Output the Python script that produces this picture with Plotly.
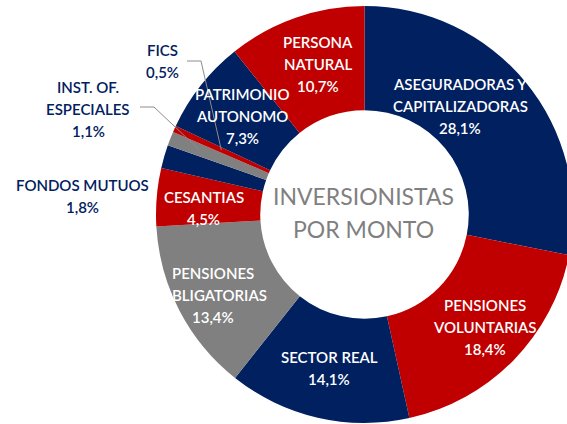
import math
import plotly.graph_objects as go

# ---- data ----
categories = ["ASEGURADORAS Y CAPITALIZADORAS", "PENSIONES VOLUNTARIAS", "SECTOR REAL",
              "PENSIONES OBLIGATORIAS", "CESANTIAS", "FONDOS MUTUOS",
              "INST. OF. ESPECIALES", "FICS", "PATRIMONIO AUTONOMO", "PERSONA NATURAL"]
label_lines = [["ASEGURADORAS Y", "CAPITALIZADORAS"], ["PENSIONES", "VOLUNTARIAS"], ["SECTOR REAL"],
               ["PENSIONES", "OBLIGATORIAS"], ["CESANTIAS"], ["FONDOS MUTUOS"],
               ["INST. OF.", "ESPECIALES"], ["FICS"], ["PATRIMONIO", "AUTONOMO"], ["PERSONA", "NATURAL"]]
values = [28.1, 18.4, 14.1, 13.4, 4.5, 1.8, 1.1, 0.5, 7.3, 10.7]
center_title = ["INVERSIONISTAS", "POR MONTO"]

# ---- style / layout ----
W, H = 575, 424          # slightly wider than the window: the donut is clipped at the right
NAVY, RED, GRAY = "#002060", "#C00000", "#808080"
colors = [NAVY, RED, NAVY, GRAY, RED, NAVY, GRAY, RED, NAVY, RED]
# label centre positions (pixels) and text colours
label_pos = [(460, 106), (485, 327), (329, 368), (213, 295), (204, 208), (82, 196),
             (88, 109), (162, 61), (242, 116), (318, 64)]
label_col = ["white", "white", "white", "white", "white", NAVY, NAVY, NAVY, "white", "white"]
LINE_H = 22.3
FONT = "Lato"
LBL_SIZE = 15
TITLE_SIZE = 23

cx, cy = 364.5, 214.5
R = 208.5

def px(x):
    return x / W

def py(y):
    return 1 - y / H

fig = go.Figure(go.Pie(
    labels=categories, values=values, sort=False, direction="clockwise", rotation=0,
    hole=0.5, textinfo="none", hoverinfo="label+percent",
    marker=dict(colors=colors, line=dict(width=0)),
    domain=dict(x=[(cx - R) / W, (cx + R) / W], y=[py(cy + R), py(cy - R)]),
    showlegend=False,
))

annotations = []
for lines, v, (lx, ly), col in zip(label_lines, values, label_pos, label_col):
    all_lines = lines + [f"{v:.1f}".replace(".", ",") + "%"]
    n = len(all_lines)
    for i, t in enumerate(all_lines):
        yy = ly + (i - (n - 1) / 2) * LINE_H
        annotations.append(dict(x=px(lx), y=py(yy), xref="paper", yref="paper",
                                text=t, showarrow=False, xanchor="center", yanchor="middle",
                                font=dict(family=FONT, size=LBL_SIZE, color=col, weight=600)))
for i, t in enumerate(center_title):
    annotations.append(dict(x=px(363), y=py(196 + i * 33), xref="paper", yref="paper",
                            text=t, showarrow=False, xanchor="center", yanchor="middle",
                            font=dict(family=FONT, size=TITLE_SIZE, color="#7F7F7F")))

# leader lines for the small slices, ending at the slice mid-angle
cum = 0
mids = []
for v in values:
    mids.append((cum + v / 2) / sum(values) * 360)
    cum += v
shapes = []
leaders = {7: ((187, 61), (201, 61), 0.753), 6: ((140, 107), (154, 107), 0.85)}
for idx, (p0, p1, rf) in leaders.items():
    th = math.radians(mids[idx])
    ex = cx + R * rf * math.sin(th)
    ey = cy - R * rf * math.cos(th)
    path = f"M {px(p0[0])},{py(p0[1])} L {px(p1[0])},{py(p1[1])} L {px(ex)},{py(ey)}"
    shapes.append(dict(type="path", path=path, xref="paper", yref="paper",
                       line=dict(color="#8C8C8C", width=1)))

fig.update_layout(width=W, height=H, margin=dict(l=0, r=0, t=0, b=0),
                  paper_bgcolor="white", plot_bgcolor="white",
                  annotations=annotations, shapes=shapes)
fig.write_html("out.html", config={"displayModeBar": False},
               post_script="document.body.style.margin='0';document.body.style.overflow='hidden';")
